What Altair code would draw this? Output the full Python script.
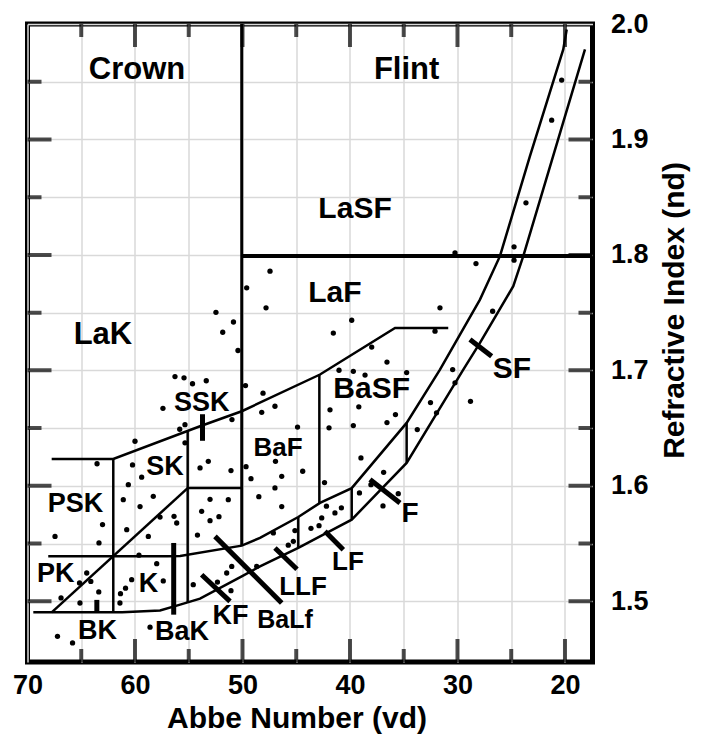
import altair as alt
import pandas as pd

# ---------------- axis ranges ----------------
X_LEFT, X_RIGHT = 70.0, 17.44      # Abbe number (reversed)
Y_BOTTOM, Y_TOP = 1.4474, 2.0      # refractive index

# ---------------- glass points (Abbe number, n_d) ----------------
dot_abbe = [47.44, 49.61, 47.81, 52.47, 50.84, 51.84, 41.55, 50.42, 39.84, 37.98,
            36.56, 41.02, 39.69, 38.60, 34.73, 49.72, 48.09, 48.21, 46.98, 50.98,
            41.86, 39.18, 35.77, 36.56, 41.95, 39.69, 44.88, 33.74, 31.63, 32.09,
            30.45, 30.23, 28.79, 32.51, 31.95, 38.98, 44.40, 36.87, 42.37, 38.05,
            39.12, 35.51, 36.93, 42.19, 41.40, 40.80, 42.63, 42.88, 43.63, 46.35,
            46.98, 46.35, 45.12, 45.27, 45.74, 55.35, 55.35, 53.18, 53.95, 51.07,
            49.67, 49.21, 46.93, 48.48, 53.02, 51.32, 53.80, 52.19, 53.02, 54.19,
            47.13, 51.00, 51.47, 48.68, 54.58, 52.33, 51.07, 56.28, 55.44, 54.65,
            53.37, 57.40, 55.84, 60.00, 63.53, 60.23, 59.38, 60.62, 58.30, 61.09,
            59.53, 57.67, 56.37, 56.12, 58.76, 60.77, 63.02, 63.35, 67.44, 59.63,
            57.98, 57.37, 60.31, 60.88, 61.35, 61.40, 64.49, 64.11, 65.16, 63.37,
            65.12, 66.88, 67.21, 65.81, 58.60, 20.31, 21.24, 23.63, 24.74, 24.74,
            28.28, 30.23, 26.73]
dot_nd = [1.7859, 1.7715, 1.7542, 1.7503, 1.7419, 1.7330, 1.7323, 1.7172, 1.7434, 1.7202,
          1.7072, 1.7001, 1.6992, 1.6959, 1.6981, 1.6868, 1.6802, 1.6637, 1.6689, 1.6574,
          1.6658, 1.6684, 1.6617, 1.6548, 1.6502, 1.6522, 1.6509, 1.6487, 1.7542, 1.7339,
          1.7007, 1.6892, 1.6732, 1.6721, 1.6632, 1.6242, 1.6126, 1.6117, 1.6028, 1.6010,
          1.5938, 1.5932, 1.5826, 1.5824, 1.5765, 1.5809, 1.5722, 1.5655, 1.5632, 1.6082,
          1.5982, 1.5820, 1.5612, 1.5519, 1.5486, 1.6530, 1.6372, 1.6212, 1.6155, 1.6132,
          1.6166, 1.6062, 1.6212, 1.5906, 1.5883, 1.5880, 1.5779, 1.5733, 1.5698, 1.5573,
          1.5592, 1.5302, 1.5245, 1.5302, 1.5144, 1.5166, 1.5092, 1.6946, 1.6935, 1.6884,
          1.6910, 1.6671, 1.6490, 1.6386, 1.6191, 1.6181, 1.6075, 1.6010, 1.5909, 1.5880,
          1.5820, 1.5729, 1.5736, 1.5678, 1.5562, 1.5620, 1.5664, 1.5505, 1.5562, 1.5399,
          1.5326, 1.5176, 1.5187, 1.5113, 1.5066, 1.4985, 1.5245, 1.5172, 1.5159, 1.5081,
          1.4985, 1.5029, 1.4696, 1.4639, 1.4776, 1.9514, 1.9167, 1.8451, 1.8070, 1.7954,
          1.7925, 1.8018, 1.7512]

# ---------------- region boundaries (thin lines) ----------------
lak_lower_x = [67.75, 62.02, 53.95, 50.07, 42.79, 35.81, 30.86]
lak_lower_y = [1.6233, 1.6233, 1.6516, 1.6646, 1.6964, 1.7368, 1.7368]

band_lower_x = [69.46, 61.20, 57.67, 55.80, 53.95, 50.07, 48.37, 44.81, 42.17, 39.84,
                34.73, 29.46, 27.91, 24.81, 23.88, 18.14]
band_lower_y = [1.4904, 1.4904, 1.4921, 1.4971, 1.5023, 1.5216, 1.5302, 1.5462, 1.5592, 1.5707,
                1.6198, 1.7007, 1.7238, 1.7729, 1.7989, 1.9780]

band_upper_x = [68.07, 57.00, 55.80, 50.07, 48.37, 44.81, 42.79, 39.84, 34.73, 31.63,
                27.91, 26.05, 23.26, 20.16, 19.84]
band_upper_y = [1.5389, 1.5389, 1.5392, 1.5482, 1.5549, 1.5730, 1.5852, 1.5980, 1.6545, 1.7007,
                1.7613, 1.7989, 1.8855, 1.9780, 1.9953]

diag_x = [67.75, 55.10]
diag_y = [1.4904, 1.5980]
v62_x = [62.02, 62.02]
v62_y = [1.6233, 1.4913]
v55_x = [55.10, 55.10]
v55_y = [1.6476, 1.4990]
h160_x = [55.10, 50.07]
h160_y = [1.5982, 1.5982]
v43_x = [42.85, 42.85]
v43_y = [1.6962, 1.5849]
v35_x = [34.73, 34.73]
v35_y = [1.6545, 1.6199]
v40_x = [39.84, 39.84]
v40_y = [1.5980, 1.5707]
v45_x = [44.81, 44.81]
v45_y = [1.5730, 1.5462]

# crown / flint divider and LaSF floor (heavier lines)
v50_x = [50.07, 50.07]
v50_y = [2.0, 1.5482]
h180_x = [50.07, X_RIGHT]
h180_y = [1.7990, 1.7990]

# glass-type marker bars (thick)
mark_bak_x = [56.40, 56.40];   mark_bak_y = [1.5505, 1.4884]
mark_ssk_x = [53.72, 53.72];   mark_ssk_y = [1.6620, 1.6390]
mark_kf_x = [53.80, 51.16];    mark_kf_y = [1.5230, 1.4999]
mark_balf_x = [52.56, 46.35];  mark_balf_y = [1.5562, 1.4985]
mark_llf_x = [46.98, 44.93];   mark_llf_y = [1.5462, 1.5278]
mark_lf_x = [42.33, 40.62];    mark_lf_y = [1.5606, 1.5447]
mark_f_x = [38.14, 35.35];     mark_f_y = [1.6054, 1.5852]
mark_sf_x = [28.84, 26.82];    mark_sf_y = [1.7267, 1.7122]
mark_bk_x = [63.55, 63.55];    mark_bk_y = [1.5012, 1.4899]

# ---------------- region names ----------------
label_text = ["Crown", "Flint", "LaSF", "LaF", "LaK", "SSK", "SK", "PSK", "PK", "K",
              "BK", "BaK", "KF", "BaLf", "LLF", "LF", "F", "SF", "BaSF", "BaF"]
label_abbe = [59.81, 34.73, 39.53, 41.40, 62.98, 53.80, 57.21, 65.53, 67.37, 58.74,
              63.49, 55.63, 51.12, 46.05, 44.37, 40.19, 34.42, 24.93, 37.98, 46.70]
label_nd = [1.9598, 1.9598, 1.8398, 1.7666, 1.7310, 1.6721, 1.6162, 1.5846, 1.5239, 1.5153,
            1.4739, 1.4737, 1.4875, 1.4841, 1.5127, 1.5343, 1.5759, 1.7016, 1.6842, 1.6327]

# axis tick values
x_grid_values = [70, 65, 60, 55, 50, 45, 40, 35, 30, 25, 20]
y_grid_values = [1.5, 1.55, 1.6, 1.65, 1.7, 1.75, 1.8, 1.85, 1.9, 1.95, 2.0]

# ---------------- styles ----------------
FONT = "Liberation Sans"
label_font_size = {"Crown": 31, "Flint": 31, "LaSF": 30, "LaF": 30, "LaK": 31, "SSK": 27,
                   "SK": 27, "PSK": 27, "PK": 27, "K": 27, "BK": 27, "BaK": 27, "KF": 27,
                   "BaLf": 25, "LLF": 26, "LF": 26, "F": 28, "SF": 30, "BaSF": 30, "BaF": 26}

xscale = alt.Scale(domain=[X_LEFT, X_RIGHT], nice=False, zero=False)
yscale = alt.Scale(domain=[Y_BOTTOM, Y_TOP], nice=False, zero=False)

x_axis = alt.Axis(
    values=x_grid_values, format="d",
    labelExpr="datum.value % 10 == 0 ? datum.label : ''",
    ticks=False, domain=False, grid=True, gridColor="#d9d9d9", gridWidth=1.5,
    labelFont=FONT, labelFontWeight="bold", labelFontSize=27, labelColor="black",
    labelPadding=10, labelFlush=False, labelOverlap=False,
    title="Abbe Number (vd)", titleFont=FONT, titleFontWeight="bold", titleFontSize=30,
    titleColor="black", titleX=269, titleY=65, titleAlign="center", titleBaseline="alphabetic",
)
y_axis = alt.Axis(
    orient="right", values=y_grid_values,
    labelExpr="(round(datum.value * 100) % 10 == 0) ? format(datum.value, '.1f') : ''",
    ticks=False, domain=False, grid=True, gridColor="#d9d9d9", gridWidth=1.5,
    labelFont=FONT, labelFontWeight="bold", labelFontSize=27, labelColor="black",
    labelPadding=18, labelOverlap=False, labelBaseline="middle",
    title="Refractive Index (nd)", titleFont=FONT, titleFontWeight="bold", titleFontSize=30,
    titleColor="black", titleAngle=270, titleX=82, titleY=286, titleAlign="center",
    titleBaseline="middle",
)


def X(field="x"):
    return alt.X(f"{field}:Q", scale=xscale, axis=x_axis)


def Y(field="y"):
    return alt.Y(f"{field}:Q", scale=yscale, axis=y_axis)


def seg_frame(segs):
    rows = []
    for name, (xs, ys) in segs.items():
        for i, (a, b) in enumerate(zip(xs, ys)):
            rows.append({"seg": name, "ord": i, "x": a, "y": b})
    return pd.DataFrame(rows)


thin = seg_frame({
    "lak": (lak_lower_x, lak_lower_y), "low": (band_lower_x, band_lower_y),
    "up": (band_upper_x, band_upper_y), "diag": (diag_x, diag_y),
    "v62": (v62_x, v62_y), "v55": (v55_x, v55_y), "h160": (h160_x, h160_y),
    "v43": (v43_x, v43_y), "v35": (v35_x, v35_y), "v40": (v40_x, v40_y),
    "v45": (v45_x, v45_y),
})
medium = seg_frame({"v50": (v50_x, v50_y)})
heavy = seg_frame({"h180": (h180_x, h180_y)})
marks = seg_frame({
    "bak": (mark_bak_x, mark_bak_y), "ssk": (mark_ssk_x, mark_ssk_y),
    "kf": (mark_kf_x, mark_kf_y), "balf": (mark_balf_x, mark_balf_y),
    "llf": (mark_llf_x, mark_llf_y), "lf": (mark_lf_x, mark_lf_y),
    "f": (mark_f_x, mark_f_y), "sf": (mark_sf_x, mark_sf_y), "bk": (mark_bk_x, mark_bk_y),
})


def line_layer(df, width):
    return alt.Chart(df).mark_line(color="black", strokeWidth=width, strokeCap="butt").encode(
        x=X(), y=Y(), detail="seg:N", order="ord:Q")


dots = pd.DataFrame({"x": dot_abbe, "y": dot_nd})
labels = pd.DataFrame({"x": label_abbe, "y": label_nd, "t": label_text,
                       "fs": [label_font_size[t] for t in label_text]})

# frame ticks (inward)
xt_long = [v for v in x_grid_values if v % 10 == 0 and v != X_LEFT]
xt_short = [v for v in x_grid_values if v % 10 != 0]
yt_long = [v for v in y_grid_values if round(v * 100) % 10 == 0 and v != Y_TOP]
yt_short = [v for v in y_grid_values if round(v * 100) % 10 != 0]

xticks_long = pd.DataFrame({"x": xt_long * 2, "y": [Y_BOTTOM] * len(xt_long) + [Y_TOP] * len(xt_long)})
xticks_short = pd.DataFrame({"x": xt_short * 2, "y": [Y_BOTTOM] * len(xt_short) + [Y_TOP] * len(xt_short)})
yticks_long = pd.DataFrame({"y": yt_long * 2, "x": [X_LEFT] * len(yt_long) + [X_RIGHT] * len(yt_long)})
yticks_short = pd.DataFrame({"y": yt_short * 2, "x": [X_LEFT] * len(yt_short) + [X_RIGHT] * len(yt_short)})


def tick_layer(df, orient, length):
    return alt.Chart(df).mark_tick(color="black", orient=orient, size=length, thickness=4,
                                   clip=True).encode(x=X(), y=Y())


chart = alt.layer(
    line_layer(thin, 2.5),
    line_layer(medium, 3),
    line_layer(heavy, 4),
    line_layer(marks, 5),
    tick_layer(xticks_long, "vertical", 46),
    tick_layer(xticks_short, "vertical", 26),
    tick_layer(yticks_long, "horizontal", 48),
    tick_layer(yticks_short, "horizontal", 28),
    alt.Chart(dots).mark_circle(color="black", size=28, opacity=1).encode(x=X(), y=Y()),
    alt.Chart(labels).mark_text(font=FONT, fontWeight="bold", color="black",
                                align="center", baseline="middle").encode(
        x=X(), y=Y(), text="t:N", size=alt.Size("fs:Q", scale=None, legend=None)),
).properties(
    width=565, height=638,
    autosize=alt.AutoSizeParams(type="none"),
    padding={"left": 19.5, "top": 16, "right": 100, "bottom": 72},
).configure_view(stroke="black", strokeWidth=5)

chart.save("out.html", embed_options={"renderer": "svg", "actions": False})
